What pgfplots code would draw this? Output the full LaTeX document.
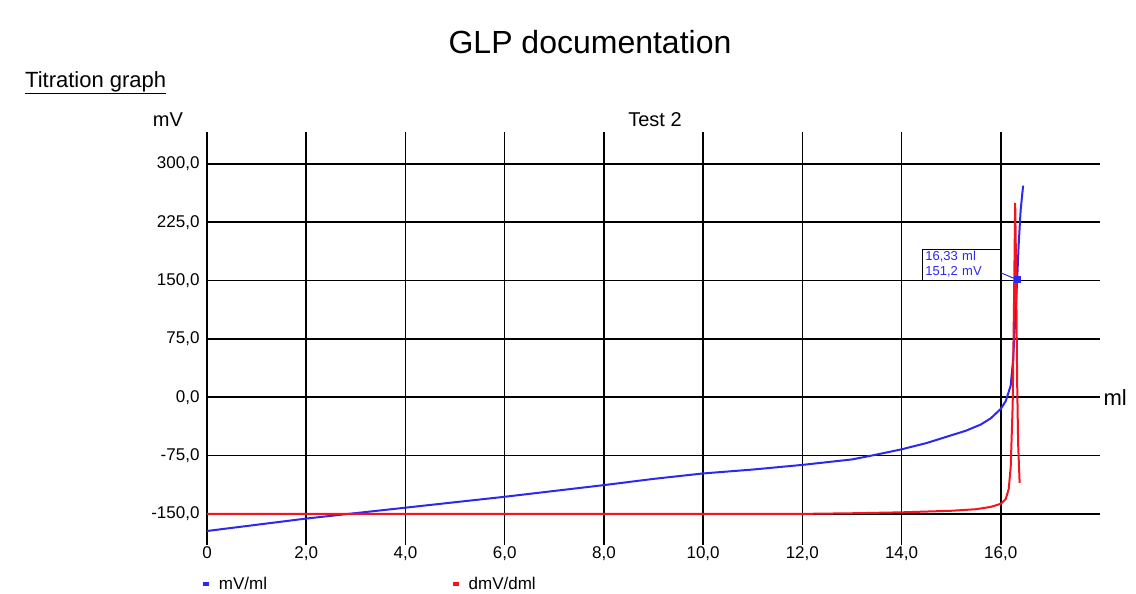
\documentclass[border=0pt]{standalone}
\usepackage{fontspec}
\setmainfont{Liberation Sans}
\usepackage{pgfplots}
\pgfplotsset{compat=1.18}
\definecolor{cblue}{RGB}{45,40,240}
\definecolor{cred}{RGB}{245,20,30}
\begin{document}
\begin{tikzpicture}
\useasboundingbox (-207pt,-49pt) rectangle (929pt,545pt);
\begin{axis}[
  at={(0pt,0pt)}, anchor=south west,
  scale only axis, width=893pt, height=413pt,
  xmin=0, xmax=18, ymin=-190, ymax=341,
  axis line style={draw=none},
  grid=major, grid style={black, line width=1.6pt},
  major tick length=0pt,
  xtick={0,2,4,6,8,10,12,14,16},
  xticklabels={0,{2,0},{4,0},{6,0},{8,0},{10,0},{12,0},{14,0},{16,0}},
  ytick={-150,-75,0,75,150,225,300},
  yticklabels={{-150,0},{-75,0},{0,0},{75,0},{150,0},{225,0},{300,0}},
  tick label style={font=\fontsize{17}{19}\selectfont, text=black},
  yticklabel style={xshift=-4pt},
  xticklabel style={yshift=2pt},
  clip=false,
  legend columns=2,
  legend style={at={(axis description cs:0,0)}, anchor=north west, xshift=-6pt, yshift=-30pt,
    draw=none, fill=none, font=\fontsize{17}{19}\selectfont, inner sep=0pt,
    /tikz/every even column/.append style={column sep=182pt}},
  legend image code/.code={\draw[line width=4pt] (0pt,0pt) -- (6pt,0pt);},
]
\addplot[cblue, line width=2pt] coordinates {
(0,-172) (1,-164) (2,-156) (3,-149) (4,-142) (5,-135) (6,-128) (7,-120.5)
(8,-113) (9,-105) (10,-98) (11,-93) (12,-87) (13,-80) (13.4,-75) (14,-67)
(14.5,-59) (15,-49) (15.3,-43) (15.6,-35) (15.8,-27) (16.0,-15) (16.1,-5)
(16.2,15) (16.25,50) (16.3,110) (16.33,151) (16.36,195) (16.4,240) (16.45,272)
};
\addlegendentry{\,\,mV/ml}
\addplot[cred, line width=2pt] coordinates {
(0,-150) (4,-150) (8,-150) (12,-150) (13,-149.2) (14,-148) (15,-146) (15.5,-144)
(15.8,-141) (16.0,-137) (16.1,-131) (16.16,-118) (16.2,-90) (16.24,-10) (16.27,140)
(16.29,250) (16.31,160) (16.33,20) (16.35,-60) (16.38,-110)
};
\addlegendentry{\,\,dmV/dml}
\addplot[cblue, only marks, mark=square*, mark size=3pt, forget plot] coordinates {(16.33,151.2)};
\draw[cblue, line width=1pt] (axis cs:16.0,160) -- (axis cs:16.33,151.2);
\node[draw=black, line width=0.9pt, fill=white, anchor=south east, font=\fontsize{13}{15}\selectfont,
  text=cblue, align=left, inner xsep=3pt, inner ysep=2.5pt, text width=72pt] at (axis cs:16.0,150) {16,33 ml\\151,2 mV};
\node[anchor=west, font=\fontsize{22}{24}\selectfont, text=black] at (axis cs:18,0) {ml};
\end{axis}
\node[font=\fontsize{32}{36}\selectfont, text=black] at (383pt,503pt) {GLP documentation};
\node[anchor=west, font=\fontsize{22}{25}\selectfont, text=black, inner sep=0pt] at (-182pt,462pt) {\underline{Titration graph}};
\node[font=\fontsize{20}{22}\selectfont, text=black] at (-39pt,425pt) {mV};
\node[font=\fontsize{20}{22}\selectfont, text=black] at (448pt,425pt) {Test 2};
\end{tikzpicture}
\end{document}
